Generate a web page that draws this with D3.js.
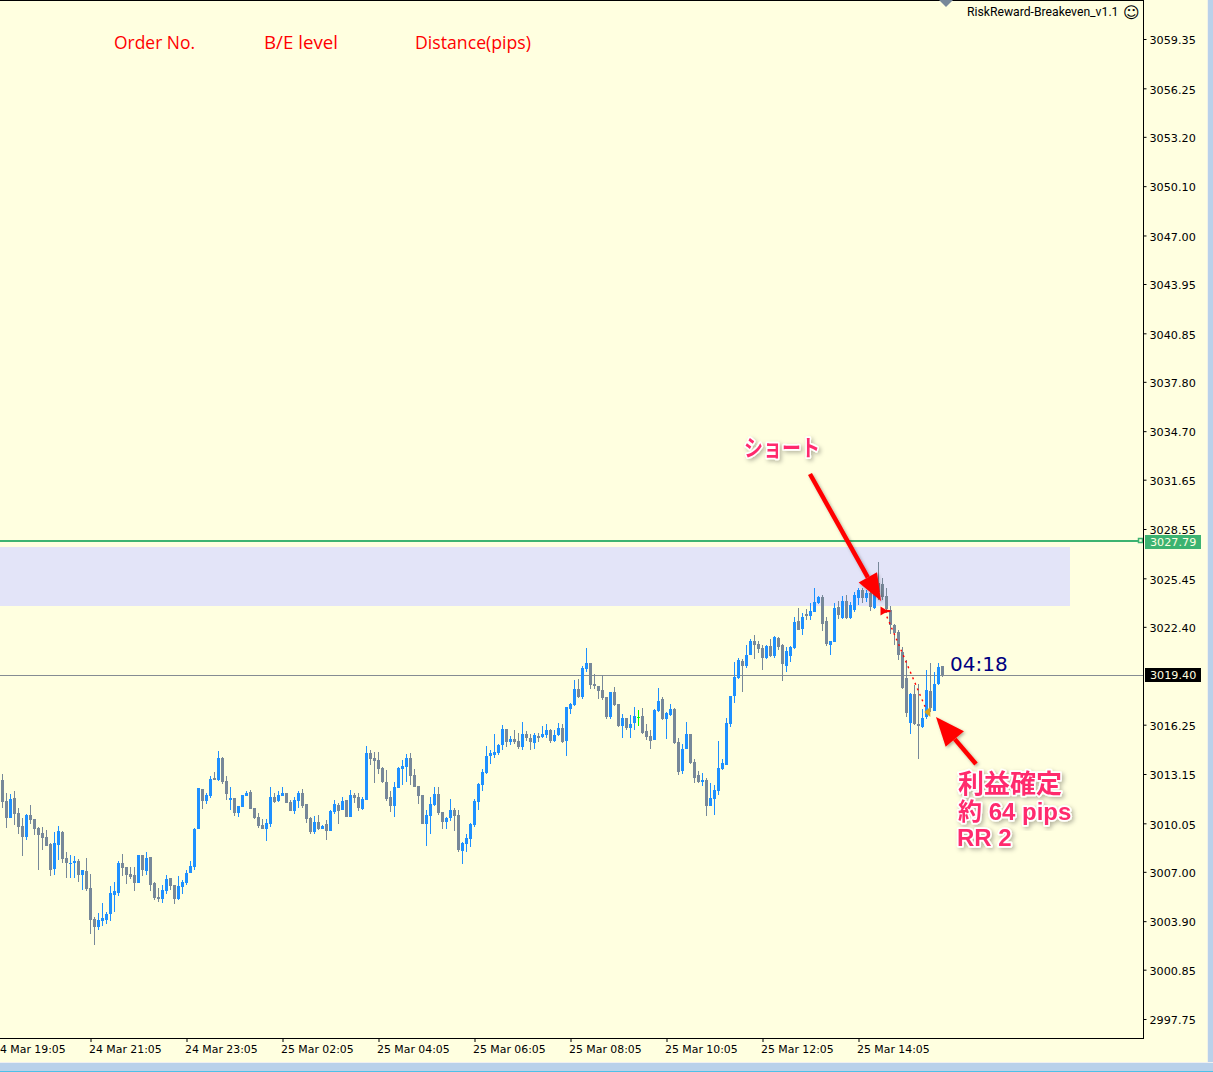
<!DOCTYPE html>
<html><head><meta charset="utf-8">
<script src="https://cdn.jsdelivr.net/npm/d3@7/dist/d3.min.js"></script>
<style>
html,body{margin:0;padding:0;background:#FFFFE0;overflow:hidden}
svg{display:block;font-family:"DejaVu Sans",sans-serif}
.jp{font-family:"Liberation Sans","Noto Sans CJK JP",sans-serif;font-weight:700;fill:#FF2A6D;stroke:#fff;stroke-width:3.4px;paint-order:stroke;stroke-linejoin:round;filter:url(#soft)}
</style></head><body>
<svg id="c" width="1213" height="1072"></svg>
<script>
const highs=[3013.15,3011.96,3011.90,3012.08,3011.02,3010.39,3010.64,3011.20,3010.33,3009.82,
3009.82,3009.63,3008.82,3009.51,3009.88,3009.57,3008.25,3008.06,3008.00,3007.81,
3007.12,3007.87,3006.87,3004.17,3004.42,3005.05,3004.48,3006.11,3006.37,3007.69,
3008.13,3007.31,3007.31,3007.31,3008.06,3008.06,3008.25,3007.94,3006.37,3005.99,
3006.18,3006.80,3006.62,3006.18,3006.74,3006.49,3007.12,3007.69,3009.76,3012.27,
3012.21,3011.96,3013.03,3013.28,3014.60,3014.22,3013.03,3012.34,3011.64,3011.14,
3011.83,3012.08,3012.14,3011.01,3010.70,3010.32,3010.32,3012.33,3011.95,3012.08,
3012.33,3011.95,3011.52,3011.70,3012.08,3012.21,3011.26,3010.45,3010.51,3010.57,
3009.94,3010.26,3010.89,3011.52,3011.33,3011.70,3011.52,3012.14,3011.95,3011.95,
3011.70,3014.91,3014.66,3014.53,3014.53,3013.59,3013.40,3012.08,3012.65,3013.59,
3014.03,3014.41,3014.47,3013.46,3012.39,3011.83,3010.89,3011.70,3012.33,3012.33,
3010.76,3010.45,3011.58,3011.01,3010.89,3008.88,3009.38,3010.07,3011.58,3012.58,
3013.46,3014.91,3014.66,3015.66,3015.03,3016.23,3015.98,3015.54,3015.91,3015.73,
3016.42,3015.85,3015.66,3015.73,3015.73,3016.17,3016.29,3015.98,3015.91,3016.35,
3016.29,3017.36,3017.61,3019.06,3019.12,3019.94,3021.07,3020.12,3019.43,3018.68,
3019.37,3017.99,3018.30,3018.62,3017.55,3016.92,3016.67,3016.86,3017.36,3017.17,
3017.30,3016.29,3015.91,3017.23,3018.55,3017.99,3017.04,3017.55,3017.30,3015.41,
3015.03,3016.42,3015.66,3014.09,3013.34,3013.21,3012.90,3012.58,3012.46,3015.22,
3014.09,3016.67,3018.05,3020.19,3020.44,3020.38,3021.26,3021.63,3021.88,3021.51,
3021.26,3021.26,3021.63,3021.82,3021.76,3021.32,3021.13,3021.19,3023.02,3023.58,
3023.27,3023.52,3023.90,3024.84,3024.34,3024.40,3023.02,3021.51,3023.90,3024.02,
3024.34,3024.40,3023.96,3024.59,3024.84,3024.84,3024.71,3024.71,3024.53,3026.47,
3025.47,3024.84,3023.71,3022.58,3022.20,3021.13,3020.31,3018.24,3018.74,3018.81,
3017.23,3019.69,3020.13,3019.56,3020.13,3019.94];
const lows=[3011.02,3009.76,3010.39,3009.95,3009.38,3008.00,3009.01,3010.01,3009.32,3007.12,
3008.38,3008.63,3006.74,3006.80,3007.75,3007.56,3006.62,3006.62,3006.62,3006.37,
3005.86,3005.80,3003.10,3002.41,3003.35,3003.60,3003.73,3003.91,3004.48,3005.49,
3006.74,3006.24,3006.55,3005.80,3006.30,3006.74,3006.80,3005.80,3005.23,3005.11,
3005.05,3005.61,3005.86,3004.98,3005.23,3005.61,3006.18,3006.93,3007.12,3009.70,
3010.95,3011.27,3011.64,3012.78,3012.71,3012.52,3011.52,3010.89,3010.51,3010.45,
3011.08,3011.77,3010.95,3010.32,3009.76,3009.69,3008.94,3009.82,3011.33,3011.39,
3011.77,3011.33,3010.82,3010.64,3011.01,3011.01,3010.07,3009.38,3009.38,3009.63,
3009.69,3009.00,3009.57,3010.64,3010.01,3010.89,3010.45,3010.45,3011.33,3010.82,
3010.89,3011.52,3013.71,3012.58,3013.15,3012.58,3011.45,3010.76,3010.45,3012.27,
3012.46,3012.65,3012.46,3012.33,3011.26,3010.01,3008.62,3009.38,3011.14,3010.57,
3009.69,3009.69,3010.19,3009.57,3008.25,3007.49,3008.25,3008.56,3009.82,3010.89,
3012.08,3013.15,3013.78,3014.15,3014.34,3014.66,3014.85,3014.97,3015.03,3014.72,
3014.66,3015.22,3014.66,3014.72,3015.16,3015.41,3015.41,3015.10,3015.16,3015.54,
3015.10,3014.28,3016.92,3017.42,3017.92,3017.86,3019.56,3018.49,3018.49,3017.86,
3017.80,3016.60,3016.60,3017.42,3016.10,3015.41,3015.91,3015.41,3015.91,3016.17,
3015.66,3015.29,3014.72,3015.29,3017.04,3016.54,3015.35,3016.79,3015.03,3013.09,
3013.15,3014.72,3013.78,3012.58,3012.58,3012.39,3010.51,3011.14,3010.57,3011.83,
3013.40,3013.71,3016.10,3017.61,3019.12,3018.30,3019.81,3020.63,3020.38,3020.75,
3019.69,3020.38,3020.50,3020.44,3020.94,3018.99,3019.56,3020.19,3021.01,3022.20,
3021.88,3022.83,3022.83,3023.33,3023.83,3022.14,3021.19,3020.63,3021.45,3022.89,
3022.89,3022.89,3022.89,3023.33,3023.77,3023.90,3023.96,3023.39,3023.52,3024.09,
3024.09,3023.27,3021.95,3021.26,3020.31,3018.49,3016.73,3015.66,3016.23,3014.09,
3016.04,3016.61,3017.05,3017.11,3018.74,3019.25];
const opens=[3012.78,3011.46,3010.39,3011.64,3010.70,3009.88,3009.19,3010.58,3010.33,3009.76,
3009.44,3009.19,3008.75,3007.18,3008.69,3009.51,3007.87,3007.50,3007.56,3007.69,
3006.80,3007.06,3005.99,3004.04,3003.54,3003.91,3003.98,3004.35,3005.55,3005.67,
3007.56,3007.31,3006.87,3006.80,3006.30,3008.06,3007.06,3007.94,3006.30,3005.42,
3005.30,3005.80,3006.62,3006.18,3005.30,3006.05,3006.30,3006.93,3007.31,3009.70,
3012.21,3011.46,3011.77,3012.90,3012.78,3014.16,3012.71,3011.52,3011.64,3010.70,
3011.08,3011.77,3012.02,3011.01,3010.45,3009.94,3009.69,3010.01,3011.70,3011.45,
3011.77,3011.95,3011.39,3010.82,3011.45,3011.95,3011.26,3010.38,3009.50,3010.13,
3009.69,3010.01,3009.57,3010.76,3011.20,3010.89,3011.52,3010.45,3011.83,3011.70,
3010.95,3011.52,3014.47,3014.15,3014.03,3013.53,3012.65,3011.70,3011.14,3012.27,
3013.46,3013.59,3014.15,3013.09,3012.39,3011.83,3010.01,3010.51,3011.20,3011.89,
3010.76,3010.13,3010.38,3010.89,3010.57,3008.31,3008.75,3009.06,3009.94,3011.39,
3012.46,3013.21,3014.28,3014.34,3014.47,3014.97,3015.98,3015.16,3015.35,3015.22,
3014.85,3015.66,3015.41,3015.10,3015.54,3015.47,3015.60,3015.91,3015.22,3015.60,
3016.04,3015.22,3017.23,3017.48,3018.49,3017.99,3019.75,3020.12,3018.80,3018.68,
3018.43,3017.99,3016.73,3018.30,3017.55,3016.17,3016.67,3016.04,3016.35,3016.75,
3016.79,3015.85,3015.54,3015.29,3017.11,3017.86,3016.60,3016.86,3017.23,3015.16,
3013.34,3014.72,3015.66,3013.90,3013.09,3012.65,3012.77,3011.14,3011.58,3012.08,
3013.46,3013.71,3016.29,3018.05,3019.18,3020.25,3019.94,3020.63,3021.51,3021.32,
3021.07,3020.44,3021.19,3020.56,3021.70,3021.26,3019.94,3020.56,3021.07,3022.76,
3022.26,3023.20,3023.08,3023.33,3023.90,3024.27,3022.76,3021.26,3021.45,3023.65,
3022.95,3024.02,3022.95,3023.46,3024.21,3024.71,3024.21,3024.53,3023.58,3025.15,
3025.09,3024.34,3023.46,3022.51,3022.07,3020.82,3019.18,3016.35,3018.18,3016.29,
3016.10,3016.73,3018.37,3017.11,3018.81,3019.94];
const closes=[3011.39,3010.39,3011.58,3010.64,3009.82,3009.19,3010.58,3010.26,3009.70,3009.32,
3009.13,3008.63,3007.12,3008.82,3009.57,3007.81,3007.56,3007.56,3007.69,3006.80,
3007.12,3005.93,3003.98,3003.54,3003.98,3004.10,3004.35,3005.67,3005.80,3007.56,
3007.25,3006.80,3006.68,3006.30,3008.06,3007.12,3007.87,3006.18,3005.36,3005.30,
3005.86,3006.55,3006.11,3005.30,3006.11,3006.37,3006.93,3007.37,3009.70,3012.27,
3011.46,3011.83,3012.84,3012.78,3014.16,3012.65,3011.90,3011.64,3010.70,3011.14,
3011.83,3011.95,3010.95,3010.38,3009.88,3009.69,3010.07,3011.70,3011.39,3011.83,
3011.95,3011.33,3010.82,3011.52,3011.95,3011.14,3010.32,3009.50,3010.13,3009.69,
3009.88,3009.57,3010.82,3011.26,3010.82,3011.45,3010.45,3011.83,3011.64,3011.01,
3011.58,3014.47,3014.09,3013.97,3013.46,3012.65,3011.58,3011.14,3012.33,3013.53,
3013.65,3014.15,3013.02,3012.33,3011.77,3010.01,3010.57,3011.26,3011.89,3010.70,
3010.13,3010.38,3010.89,3010.51,3008.37,3008.81,3009.13,3010.01,3011.45,3012.52,
3013.27,3014.28,3014.47,3014.53,3014.97,3015.98,3015.16,3015.35,3015.16,3014.85,
3015.66,3015.41,3015.16,3015.60,3015.41,3015.66,3015.91,3015.22,3015.60,3016.04,
3015.16,3017.36,3017.55,3018.49,3017.99,3019.81,3020.12,3018.74,3018.68,3018.37,
3017.92,3016.73,3018.30,3017.48,3016.17,3016.67,3016.04,3016.29,3016.79,3016.75,
3015.72,3015.47,3015.22,3017.17,3017.74,3016.60,3016.98,3017.23,3015.10,3013.27,
3014.72,3015.66,3013.84,3012.90,3012.65,3012.77,3011.14,3011.64,3012.14,3013.52,
3013.84,3016.35,3018.05,3019.25,3020.31,3019.94,3020.63,3021.51,3021.26,3021.01,
3020.44,3021.19,3020.56,3021.76,3021.13,3020.06,3020.88,3021.13,3022.70,3022.20,
3023.02,3023.08,3023.39,3023.96,3024.27,3022.58,3021.32,3021.51,3023.58,3023.14,
3024.02,3022.95,3023.77,3024.40,3024.71,3024.21,3024.53,3023.65,3024.53,3024.59,
3024.28,3023.52,3022.51,3022.01,3020.63,3018.55,3016.98,3018.18,3016.29,3016.17,
3016.67,3018.43,3017.30,3018.81,3019.87,3019.40];
const priceTicks=[3059.35,3056.25,3053.20,3050.10,3047.00,3043.95,3040.85,3037.80,3034.70,3031.65,3028.55,3025.45,3022.40,3016.25,3013.15,3010.05,3007.00,3003.90,3000.85,2997.75];
const timeLabels=["24 Mar 19:05","24 Mar 21:05","24 Mar 23:05","25 Mar 02:05","25 Mar 04:05","25 Mar 06:05","25 Mar 08:05","25 Mar 10:05","25 Mar 12:05","25 Mar 14:05"];
const timeIndexes=[-2,22,46,70,94,118,142,166,190,214];
const bidPrice=3019.40, levelPrice=3027.79;
const zone={top:3027.42,bottom:3023.71,endIndex:267};
const trade={entryIndex:220.5,entryPrice:3023.39,exitIndex:231.2,exitPrice:3017.05};

const UP="#1E90FF",DOWN="#778899",DOJI="#00FF00",BG="#FFFFE0";
const W=1213,H=1072,PR=1143,PB=1038;
const x=d3.scaleLinear().domain([0,1]).range([2.5,6.5]);
const y=d3.scaleLinear().domain([3059.35,2997.75]).range([39,1019]);
const svg=d3.select("#c");
const defs=svg.append("defs");
const soft=defs.append("filter").attr("id","soft").attr("x","-20%").attr("y","-20%").attr("width","140%").attr("height","140%");
soft.append("feDropShadow").attr("dx",2).attr("dy",2).attr("stdDeviation",2).attr("flood-color","#000").attr("flood-opacity",.28);
const soft2=defs.append("filter").attr("id","arrowShadow").attr("x","-30%").attr("y","-30%").attr("width","160%").attr("height","160%");
soft2.append("feDropShadow").attr("dx",1.5).attr("dy",1.5).attr("stdDeviation",1.5).attr("flood-color","#000").attr("flood-opacity",.3);
const clip=defs.append("clipPath").attr("id","plot");clip.append("rect").attr("width",PR).attr("height",PB);

// window frame
svg.append("rect").attr("width",W).attr("height",H).attr("fill",BG);
svg.append("rect").attr("x",1207).attr("y",0).attr("width",1).attr("height",H).attr("fill","#F2F2E6");
svg.append("rect").attr("x",1208).attr("y",0).attr("width",5).attr("height",H).attr("fill","#B9D1EA");
svg.append("rect").attr("x",0).attr("y",1062).attr("width",W).attr("height",1).attr("fill","#F0F0F0");
svg.append("rect").attr("x",0).attr("y",1063).attr("width",W).attr("height",8).attr("fill","#B9D1EA");
svg.append("rect").attr("x",0).attr("y",1071).attr("width",W).attr("height",1).attr("fill","#4FC0E8");

const plot=svg.append("g").attr("clip-path","url(#plot)");
// supply zone
plot.append("rect").attr("x",0).attr("y",Math.round(y(zone.top))).attr("width",Math.floor(x(zone.endIndex))).attr("height",Math.round(y(zone.bottom))-Math.round(y(zone.top))).attr("fill","#E3E4F8");
// horizontal lines
plot.append("rect").attr("x",0).attr("y",Math.round(y(levelPrice))-1).attr("width",PR).attr("height",2).attr("fill","#3CB371");
plot.append("rect").attr("x",0).attr("y",Math.round(y(bidPrice))).attr("width",PR).attr("height",1).attr("fill","#858C93");
svg.append("rect").attr("x",1138.5).attr("y",Math.round(y(levelPrice))-2.5).attr("width",4).attr("height",4).attr("fill",BG).attr("stroke","#3CB371").attr("stroke-width",1.5);

// candles
const rows=d3.range(closes.length);
const col=i=>closes[i]>opens[i]?UP:closes[i]<opens[i]?DOWN:DOJI;
const candles=plot.append("g");
candles.selectAll("rect.w").data(rows).join("rect").attr("class","w")
 .attr("x",i=>x(i)-.5).attr("width",1)
 .attr("y",i=>Math.round(y(highs[i]))).attr("height",i=>Math.max(1,Math.round(y(lows[i]))-Math.round(y(highs[i]))))
 .attr("fill",col);
candles.selectAll("rect.b").data(rows).join("rect").attr("class","b")
 .attr("x",i=>x(i)-1.5).attr("width",3)
 .attr("y",i=>Math.round(y(Math.max(opens[i],closes[i]))))
 .attr("height",i=>Math.max(1,Math.round(y(Math.min(opens[i],closes[i])))-Math.round(y(Math.max(opens[i],closes[i])))))
 .attr("fill",col);

// trade history marks
plot.append("line").attr("x1",x(trade.entryIndex)).attr("y1",y(trade.entryPrice)).attr("x2",x(trade.exitIndex)).attr("y2",y(trade.exitPrice))
 .attr("stroke","#FF0000").attr("stroke-width",1.4).attr("stroke-dasharray","2 4");
const ex=x(trade.entryIndex),ey=y(trade.entryPrice);
plot.append("path").attr("d",`M${ex-4},${ey-4.5}L${ex+1},${ey-1.5}L${ex+6},${ey-.8}L${ex+6},${ey+.8}L${ex+1},${ey+1.5}L${ex-4},${ey+4.5}Z`).attr("fill","#FF0000");
const tx=x(trade.exitIndex),ty=y(trade.exitPrice);
plot.append("path").attr("d",`M${tx-3},${ty}L${tx+3},${ty-5}L${tx+3},${ty+5}Z`).attr("fill","#DAA520");

// axes
const yAxis=d3.axisRight(y).tickValues(priceTicks).tickFormat(d3.format(".2f")).tickSize(3).tickPadding(3);
const ga=svg.append("g").attr("transform",`translate(${PR+.5},0)`).call(yAxis).attr("font-family",null).attr("font-size",null);
ga.select(".domain").remove();
ga.selectAll("line").attr("stroke","#000");
ga.selectAll("text").attr("font-size",11.2).attr("fill","#000").attr("dy",".42em");
const xAxis=d3.axisBottom(x).tickValues(timeIndexes).tickFormat((d,k)=>timeLabels[k]).tickSize(4);
const gb=svg.append("g").attr("transform",`translate(0,${PB})`).call(xAxis).attr("font-family",null).attr("font-size",null);
gb.select(".domain").remove();
gb.selectAll("line").attr("stroke","#000");
gb.selectAll("text").attr("font-size",10.9).attr("fill","#000").attr("text-anchor","start").attr("x",-2).attr("y",7).attr("dy",".71em");
svg.append("rect").attr("x",PR).attr("y",0).attr("width",1).attr("height",PB+1).attr("fill","#000");
svg.append("rect").attr("x",0).attr("y",PB).attr("width",PR+1).attr("height",1).attr("fill","#000");
svg.append("rect").attr("x",0).attr("y",0).attr("width",PR).attr("height",1).attr("fill","#000");

// price labels
function tag(p,fill,txt,off){
 const top=Math.round(y(p))-off;
 svg.append("rect").attr("x",1145).attr("y",top).attr("width",56).attr("height",14).attr("fill",fill);
 svg.append("text").attr("x",1150).attr("y",top+11).attr("font-size",11.2).attr("fill",txt).text(d3.format(".2f")(p));
}
tag(levelPrice,"#3CB371","#FFFFE0",6);
tag(bidPrice,"#000","#FFFFE0",7);

// header text
[["Order No.",114,81],["B/E level",264,74],["Distance(pips)",415,116]].forEach(d=>{
 svg.append("text").attr("x",d[1]).attr("y",49).attr("font-size",17.5).attr("font-family","Open Sans").attr("fill","#FF0000").attr("textLength",d[2]).attr("lengthAdjust","spacingAndGlyphs").text(d[0]);
});
svg.append("text").attr("x",967).attr("y",16).attr("font-size",12.2).attr("font-family","Roboto").attr("fill","#000").text("RiskReward-Breakeven_v1.1");
svg.append("text").attr("x",1123).attr("y",18).attr("font-size",16).attr("fill","#000").text("☺");
svg.append("path").attr("d","M939,0L953,0L946,7Z").attr("fill","#778899");
svg.append("text").attr("x",950).attr("y",671).attr("font-size",20).attr("fill","#000080").text("04:18");

// annotation arrows
function arrow(x1,y1,x2,y2,headL,headW){
 const a=Math.atan2(y2-y1,x2-x1),c=Math.cos(a),s=Math.sin(a);
 const bx=x2-headL*c,by=y2-headL*s;
 const g=svg.append("g").attr("filter","url(#arrowShadow)");
 g.append("line").attr("x1",x1).attr("y1",y1).attr("x2",bx).attr("y2",by).attr("stroke","#FF0000").attr("stroke-width",4.5);
 g.append("path").attr("d",`M${x2},${y2}L${bx-s*headW/2},${by+c*headW/2}L${bx+s*headW/2},${by-c*headW/2}Z`).attr("fill","#FF0000");
}
arrow(810,474,881,601,27,21);
arrow(976,764,936,717,29,24);

// annotation text
svg.append("text").attr("class","jp").attr("x",744).attr("y",456).attr("font-size",23).attr("textLength",76).attr("lengthAdjust","spacingAndGlyphs").text("ショート");
svg.append("text").attr("class","jp").attr("x",958).attr("y",793).attr("font-size",26).text("利益確定");
svg.append("text").attr("class","jp").attr("x",958).attr("y",820).attr("font-size",24).text("約 64 pips");
svg.append("text").attr("class","jp").attr("x",957).attr("y",846).attr("font-size",24).text("RR 2");
</script>
</body></html>
